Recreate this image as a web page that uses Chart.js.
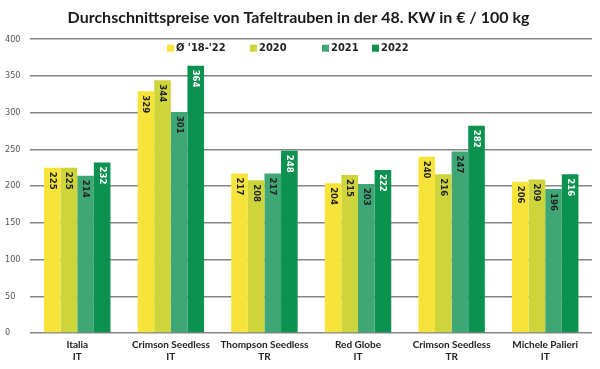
<!DOCTYPE html>
<html>
<head>
<meta charset="utf-8">
<script src="https://cdn.jsdelivr.net/npm/chart.js@4"></script>
<style>
  html, body { margin: 0; padding: 0; background: #fff; }
  #wrap { width: 600px; height: 369px; position: relative; }
</style>
</head>
<body>
<div id="wrap"><canvas id="grapeChart"></canvas></div>
<script>
const categories = [
    ['Italia', 'IT'],
    ['Crimson Seedless', 'IT'],
    ['Thompson Seedless', 'TR'],
    ['Red Globe', 'IT'],
    ['Crimson Seedless', 'TR'],
    ['Michele Palieri', 'IT']
];
const seriesNames = ["Ø '18-'22", '2020', '2021', '2022'];
const avg1822 = [225, 329, 217, 204, 240, 206];
const prices2020 = [225, 344, 208, 215, 216, 209];
const prices2021 = [214, 301, 217, 203, 247, 196];
const prices2022 = [232, 364, 248, 222, 282, 216];
const yTicks = [0, 50, 100, 150, 200, 250, 300, 350, 400];

const barColors = ['#f7e43a', '#cdd43c', '#3ea775', '#0b9150'];
const labelColors = ['#222', '#222', '#222', '#fff'];
const condensed = "'DejaVu Sans Condensed', sans-serif";
const narrow = "Lato, 'DejaVu Sans Condensed', sans-serif";

const seriesValues = [avg1822, prices2020, prices2021, prices2022];

// rotated value labels inside the top of each bar
const barLabels = {
    id: 'barLabels',
    afterDatasetsDraw(chart) {
        const ctx = chart.ctx;
        ctx.save();
        ctx.font = `bold 9.5px ${condensed}`;
        ctx.textAlign = 'left';
        ctx.textBaseline = 'middle';
        chart.data.datasets.forEach((ds, i) => {
            const meta = chart.getDatasetMeta(i);
            ctx.fillStyle = labelColors[i];
            meta.data.forEach((bar, j) => {
                ctx.save();
                ctx.translate(bar.x, bar.y + 4);
                ctx.rotate(Math.PI / 2);
                ctx.fillText(String(ds.data[j]), 0, 0);
                ctx.restore();
            });
        });
        ctx.restore();
    }
};

// legend drawn over the top of the plot area
const overlayLegend = {
    id: 'overlayLegend',
    afterDraw(chart) {
        const ctx = chart.ctx;
        const y = chart.chartArea.top + 9;
        const xs = [167, 250, 322, 372];
        ctx.save();
        ctx.font = `bold 11px ${condensed}`;
        ctx.textBaseline = 'middle';
        ctx.textAlign = 'left';
        chart.data.datasets.forEach((ds, i) => {
            ctx.fillStyle = ds.backgroundColor;
            ctx.fillRect(xs[i], y - 3.5, 7, 7);
            ctx.fillStyle = '#222';
            ctx.fillText(ds.label, xs[i] + 9, y);
        });
        ctx.restore();
    }
};

new Chart(document.getElementById('grapeChart'), {
    type: 'bar',
    data: {
        labels: categories,
        datasets: seriesNames.map((name, i) => ({
            label: name,
            data: seriesValues[i],
            backgroundColor: barColors[i],
            borderWidth: 0,
            barPercentage: 1,
            categoryPercentage: 0.71
        }))
    },
    options: {
        responsive: true,
        maintainAspectRatio: false,
        animation: false,
        layout: { padding: { left: 5, right: 8, top: 0, bottom: 0 } },
        plugins: {
            legend: { display: false },
            tooltip: { enabled: false },
            title: {
                display: true,
                text: 'Durchschnittspreise von Tafeltrauben in der 48. KW in € / 100 kg',
                color: '#1a1a1a',
                font: { family: narrow, size: 16, weight: 'bold' },
                padding: { top: 8, bottom: 12 }
            }
        },
        scales: {
            x: {
                grid: { display: false, drawTicks: false },
                border: { display: false },
                ticks: {
                    color: '#222',
                    font: { family: narrow, size: 10, weight: 'bold' },
                    padding: 6,
                    maxRotation: 0,
                    autoSkip: false
                }
            },
            y: {
                min: 0,
                max: 400,
                afterBuildTicks: axis => { axis.ticks = yTicks.map(v => ({ value: v })); },
                grid: { color: '#858585', lineWidth: 1.5, drawTicks: false },
                border: { display: false },
                ticks: {
                    color: '#555',
                    font: { family: condensed, size: 9 },
                    crossAlign: 'far',
                    padding: 5
                }
            }
        }
    },
    plugins: [barLabels, overlayLegend]
});
</script>
</body>
</html>
